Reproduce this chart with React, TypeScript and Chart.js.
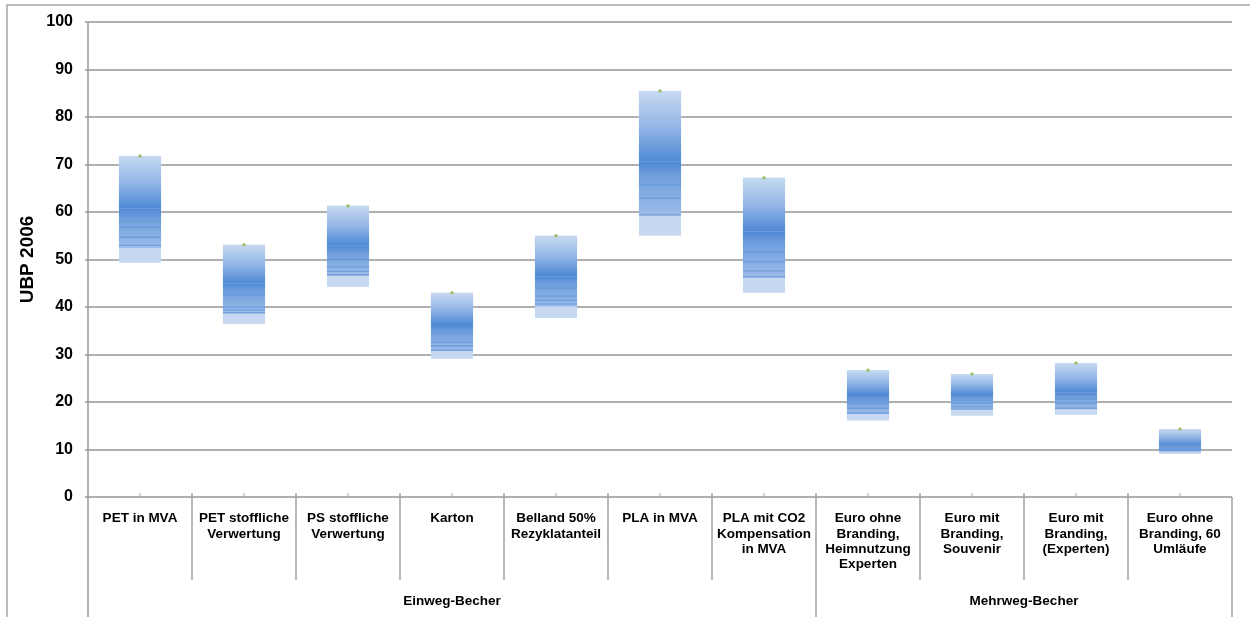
import React, { useEffect, useRef } from "react";
import { Chart, registerables } from "chart.js";

Chart.register(...registerables);

const categories: string[][] = [
  ["PET in MVA"],
  ["PET stoffliche", "Verwertung"],
  ["PS stoffliche", "Verwertung"],
  ["Karton"],
  ["Belland 50%", "Rezyklatanteil"],
  ["PLA in MVA"],
  ["PLA mit CO2", "Kompensation", "in MVA"],
  ["Euro ohne", "Branding,", "Heimnutzung", "Experten"],
  ["Euro mit", "Branding,", "Souvenir"],
  ["Euro mit", "Branding,", "(Experten)"],
  ["Euro ohne", "Branding, 60", "Umläufe"],
];

const groupLabels = ["Einweg-Becher", "Mehrweg-Becher"];
const groupStart = [0, 7];
const groupEnd = [6, 10];

const maxValues = [71.8, 53.1, 61.3, 43.0, 55.0, 85.5, 67.2, 26.7, 25.9, 28.2, 14.3];
const minValues = [49.3, 36.4, 44.2, 29.1, 37.7, 55.0, 43.0, 16.1, 17.1, 17.3, 9.05];
const modeValues = [60.8, 45.0, 52.9, 36.2, 46.5, 70.6, 55.9, 21.5, 21.5, 22.0, 10.9];
const lowValues = [52.4, 38.7, 46.6, 30.8, 40.1, 59.2, 46.1, 17.5, 18.5, 18.5, 9.7];

const stripeA = [59.2, 42.5, 50.0, 34.5, 44.0, 68.8, 51.6, 20.4, 20.4, 21.5, 10.6];
const stripeB = [56.8, 40.0, 48.4, 32.6, 42.3, 65.7, 49.5, 19.8, 19.8, 20.6, 10.2];
const stripeC = [54.7, 39.4, 47.5, 31.8, 41.4, 62.9, 47.6, 18.7, 19.0, 19.8, 9.95];
const stripeD = [53.0, 38.8, 46.8, 30.9, 40.6, 59.4, 46.4, 17.7, 18.5, 18.7, 9.75];

const yTicks = [0, 10, 20, 30, 40, 50, 60, 70, 80, 90, 100];

const FONT = "'Liberation Sans', Arial, Helvetica, sans-serif";

function gradientFill(stops: [number, string][], fallback: string) {
  return (ctx: any) => {
    const chart = ctx.chart;
    if (!chart.chartArea || ctx.type !== "data") return fallback;
    const raw = ctx.raw as [number, number];
    const y = chart.scales.y;
    const top = y.getPixelForValue(Math.max(raw[0], raw[1]));
    const bot = y.getPixelForValue(Math.min(raw[0], raw[1]));
    if (!isFinite(top) || !isFinite(bot) || top === bot) return fallback;
    const g = chart.ctx.createLinearGradient(0, top, 0, bot);
    stops.forEach(([o, c]) => g.addColorStop(o, c));
    return g;
  };
}

const decorPlugin = {
  id: "decor",
  afterDraw(chart: any) {
    const { ctx, chartArea } = chart;
    const x = chart.scales.x;
    const n = categories.length;
    const cw = (x.right - x.left) / n;
    const H = chart.height;
    const W = chart.width;
    ctx.save();
    // outer frame
    ctx.strokeStyle = "#a6a6a6";
    ctx.lineWidth = 1.5;
    ctx.beginPath();
    ctx.moveTo(7, H);
    ctx.lineTo(7, 5);
    ctx.lineTo(W, 5);
    ctx.stroke();
    // left axis line
    ctx.strokeStyle = "#9a9a9a";
    ctx.lineWidth = 1.5;
    ctx.beginPath();
    ctx.moveTo(chartArea.left, chartArea.top);
    ctx.lineTo(chartArea.left, H);
    ctx.stroke();
    // category separators
    ctx.lineWidth = 1.5;
    ctx.strokeStyle = "#a0a0a0";
    for (let i = 1; i < n; i++) {
      const bx = x.left + cw * i;
      const isGroupEdge = groupStart.includes(i);
      ctx.beginPath();
      ctx.moveTo(bx, chartArea.bottom - 4);
      ctx.lineTo(bx, isGroupEdge ? H : chartArea.bottom + 83);
      ctx.stroke();
    }
    // right edge below axis
    ctx.beginPath();
    ctx.moveTo(x.right, chartArea.bottom);
    ctx.lineTo(x.right, H);
    ctx.stroke();
    // small center tick marks
    ctx.lineWidth = 1;
    for (let i = 0; i < n; i++) {
      const cx = x.getPixelForValue(i);
      ctx.beginPath();
      ctx.moveTo(cx, chartArea.bottom - 4);
      ctx.lineTo(cx, chartArea.bottom);
      ctx.stroke();
    }
    // group labels
    ctx.fillStyle = "#000";
    ctx.font = `bold 13.5px ${FONT}`;
    ctx.textAlign = "center";
    ctx.textBaseline = "middle";
    for (let g = 0; g < groupLabels.length; g++) {
      const l = x.left + cw * groupStart[g];
      const r = x.left + cw * (groupEnd[g] + 1);
      ctx.fillText(groupLabels[g], (l + r) / 2, chartArea.bottom + 104);
    }
    ctx.restore();
  },
};

export default function App() {
  const ref = useRef<HTMLCanvasElement | null>(null);

  useEffect(() => {
    if (!ref.current) return;
    const labels = categories;
    const rangeData = minValues.map((v, i) => [v, maxValues[i]]);
    const upperData = modeValues.map((v, i) => [v, maxValues[i]]);
    const midData = lowValues.map((v, i) => [v, modeValues[i]]);
    const stripe = (arr: number[]) => arr.map((v) => [v - 0.15, v + 0.15]);

    const barCommon = {
      type: "bar" as const,
      grouped: false,
      barPercentage: 1,
      categoryPercentage: 0.405,
      borderWidth: 0,
    };
    const stripeColor = "rgba(98,148,216,0.7)";

    const chart = new Chart(ref.current, {
      type: "bar",
      data: {
        labels,
        datasets: [
          {
            type: "line",
            label: "Max",
            data: maxValues,
            showLine: false,
            pointStyle: "rect",
            pointRadius: 2,
            pointBackgroundColor: "#9bbb59",
            pointBorderColor: "#9bbb59",
            pointBorderWidth: 0,
            order: 0,
          } as any,
          { ...barCommon, label: "sA", data: stripe(stripeA), backgroundColor: stripeColor, order: 1 },
          { ...barCommon, label: "sB", data: stripe(stripeB), backgroundColor: stripeColor, order: 1 },
          { ...barCommon, label: "sC", data: stripe(stripeC), backgroundColor: stripeColor, order: 1 },
          { ...barCommon, label: "sD", data: stripe(stripeD), backgroundColor: stripeColor, order: 1 },
          {
            ...barCommon,
            label: "mid",
            data: midData,
            backgroundColor: gradientFill(
              [
                [0, "#4f88d5"],
                [0.25, "#6f9edd"],
                [1, "#9dbce9"],
              ],
              "#7fa8e0"
            ),
            order: 2,
          },
          {
            ...barCommon,
            label: "upper",
            data: upperData,
            backgroundColor: gradientFill(
              [
                [0, "#c6d9f1"],
                [0.5, "#94b7e7"],
                [1, "#4f88d5"],
              ],
              "#8db2e6"
            ),
            order: 3,
          },
          {
            ...barCommon,
            label: "range",
            data: rangeData,
            backgroundColor: "#c6d9f1",
            order: 4,
          },
        ] as any,
      },
      options: {
        responsive: false,
        animation: false,
        events: [],
        layout: { padding: { left: 8, top: 22, right: 18, bottom: 0 } },
        plugins: {
          legend: { display: false },
          tooltip: { enabled: false },
        },
        scales: {
          x: {
            type: "category",
            offset: true,
            grid: { display: false, drawTicks: false },
            border: { display: false },
            ticks: {
              color: "#000",
              padding: 14,
              maxRotation: 0,
              autoSkip: false,
              font: { family: FONT, size: 13.5, weight: "bold", lineHeight: "15.3px" } as any,
            },
            afterFit: (s: any) => {
              s.height = 120;
            },
          },
          y: {
            min: 0,
            max: 100,
            afterBuildTicks: (s: any) => {
              s.ticks = yTicks.map((v) => ({ value: v }));
            },
            grid: { color: "#b0b0b0", lineWidth: 2, drawTicks: true, tickLength: 3 },
            border: { display: false },
            ticks: {
              color: "#000",
              padding: 12,
              font: { family: FONT, size: 16, weight: "bold" },
            },
            title: {
              display: true,
              text: "UBP 2006",
              color: "#000",
              padding: { top: 8, bottom: 0 },
              font: { family: FONT, size: 19, weight: "bold" },
            },
            afterFit: (s: any) => {
              s.width = 80;
            },
          },
        },
      } as any,
      plugins: [decorPlugin],
    });
    return () => chart.destroy();
  }, []);

  return (
    <div style={{ position: "absolute", left: 0, top: 0, width: 1250, height: 617, background: "#fff" }}>
      <canvas ref={ref} width={1250} height={617} style={{ display: "block" }} />
    </div>
  );
}
